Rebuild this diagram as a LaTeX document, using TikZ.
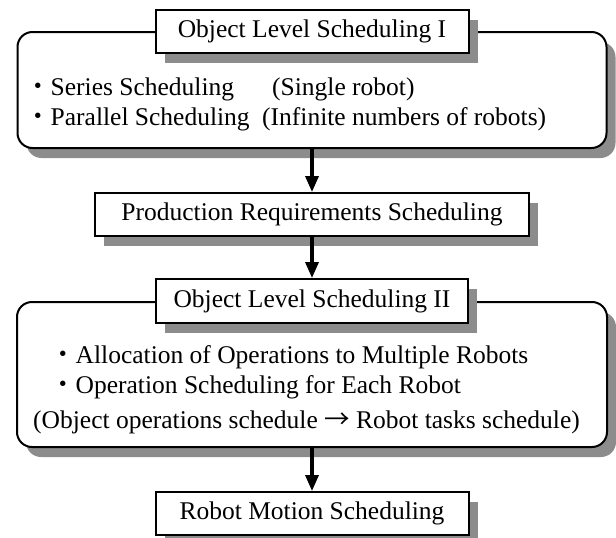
\documentclass[tikz,border=0pt]{standalone}
\usepackage{fontspec}
\setmainfont{Liberation Serif}
\newfontfamily\cjk{Noto Sans CJK JP}
\usetikzlibrary{arrows.meta,shadows,positioning}

\begin{document}
\begin{tikzpicture}[%
        x=1pt, y=-1pt,
        >={Triangle[length=16pt,width=13pt]},
        font=\fontsize{25.5}{30}\selectfont,
        shade/.style={drop shadow={shadow xshift=9pt, shadow yshift=-10pt,
                                   fill=black!45, opacity=1}},
        panel/.style={draw, line width=2pt, rounded corners=15pt, fill=white, shade},
        title/.style={draw, line width=2pt, fill=white, inner sep=0pt,
                      minimum height=43pt, shade},
        item/.style={anchor=base west, inner sep=0pt},
        flow/.style={->, line width=3.4pt}
        ]

        \useasboundingbox (0,0) rectangle (616,538);

        % first level
        \node[panel, minimum width=589pt, minimum height=116pt] (olsa) at (312,90) {};
        \node[title, minimum width=313pt] (olsatitle) at (312,31.5) {Object Level Scheduling I};
        \node[item] (series) at (25,95) {{\cjk ・}Series Scheduling};
        \node[item] (single) at (272,95) {(Single robot)};
        \node[item] (parallel) at (25,125) {{\cjk ・}Parallel Scheduling};
        \node[item] (infinite) at (262,125) {(Infinite numbers of robots)};

        \node[title, minimum width=434pt] (prod) at (312,214.5) {Production Requirements Scheduling};

        % second level
        \node[panel, minimum width=590pt, minimum height=145pt] (olsb) at (312,374.5) {};
        \node[title, minimum width=312pt, minimum height=44pt] (olsbtitle) at (312,301) {Object Level Scheduling II};
        \node[item] (alloc) at (50,363) {{\cjk ・}Allocation of Operations to Multiple Robots};
        \node[item] (opsched) at (50,393) {{\cjk ・}Operation Scheduling for Each Robot};
        \node[item] (convert) at (33,428) {(Object operations schedule {\cjk →} Robot tasks schedule)};

        \node[title, minimum width=313pt] (motion) at (312,513.5) {Robot Motion Scheduling};

        \path[flow] (olsa) edge (prod);
        \path[flow] (prod) edge (olsbtitle);
        \path[flow] (olsb) edge (motion);

\end{tikzpicture}
\end{document}
